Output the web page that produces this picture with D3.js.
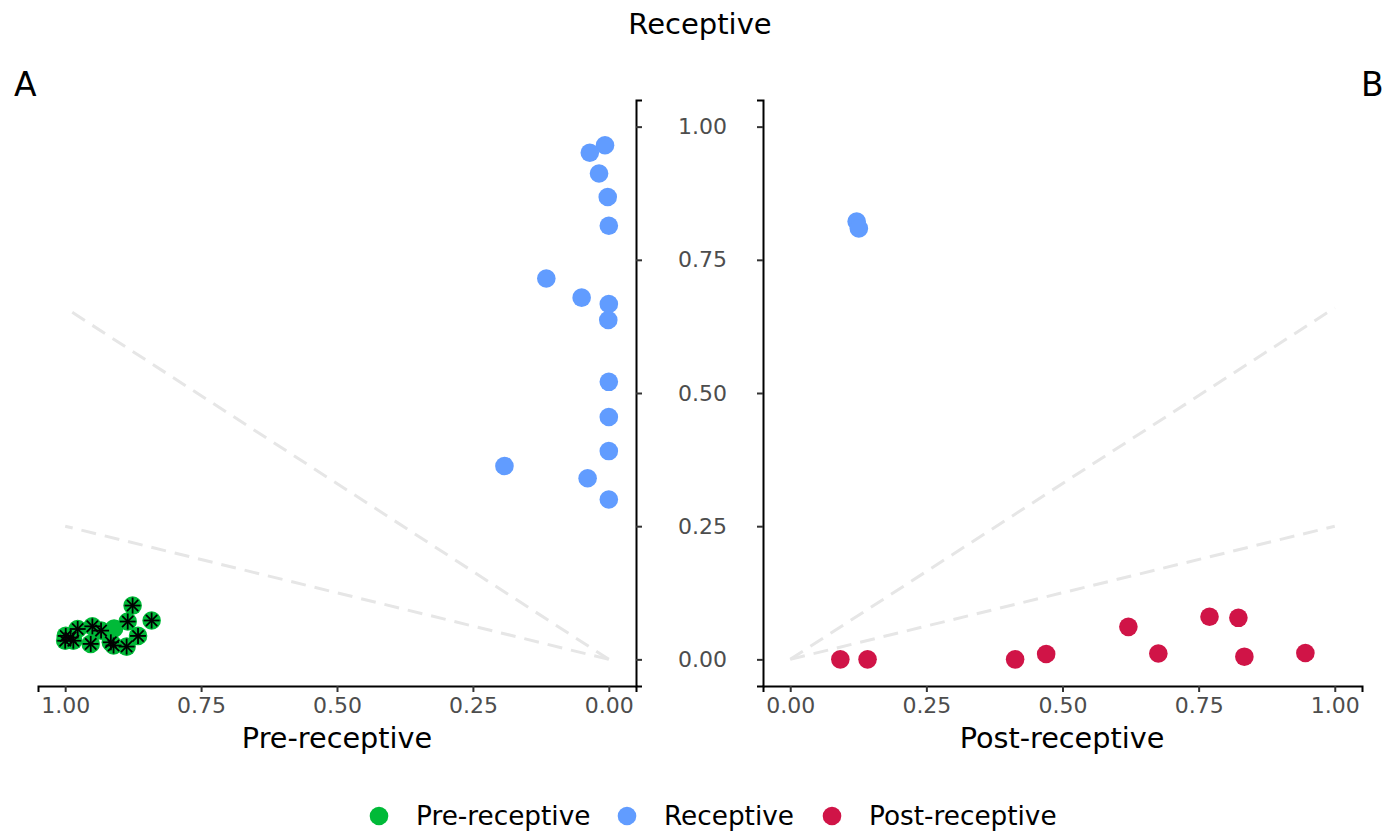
<!DOCTYPE html>
<html><head><meta charset="utf-8">
<script src="https://cdn.jsdelivr.net/npm/d3@7"></script>
<style>body{margin:0;background:#fff;} text{font-family:"DejaVu Sans",sans-serif;}</style>
</head><body><svg id="c" width="1388" height="833"></svg>
<script>
// Panel A: x = Pre-receptive, y = Receptive
const greenPre = [1.00, 0.999, 0.990, 0.985, 0.977, 0.950, 0.934, 0.953, 0.916, 0.911, 0.887, 0.885, 0.876, 0.866, 0.841];
const greenRec = [0.035, 0.044, 0.041, 0.035, 0.057, 0.062, 0.054, 0.029, 0.032, 0.026, 0.024, 0.071, 0.101, 0.044, 0.073];
const greenPlainPre = [0.910];
const greenPlainRec = [0.058];
const blueAPre = [0.007, 0.035, 0.018, 0.002, 0.000, 0.115, 0.050, 0.000, 0.001, 0.000, 0.000, 0.000, 0.192, 0.039, 0.000];
const blueARec = [0.965, 0.951, 0.912, 0.868, 0.814, 0.715, 0.679, 0.667, 0.637, 0.521, 0.455, 0.391, 0.363, 0.340, 0.300];
// Panel B: x = Post-receptive, y = Receptive
const blueBPost = [0.122, 0.126];
const blueBRec = [0.822, 0.809];
const redPost = [0.092, 0.142, 0.413, 0.470, 0.621, 0.676, 0.770, 0.823, 0.834, 0.946];
const redRec = [0.000, 0.000, 0.000, 0.010, 0.061, 0.011, 0.080, 0.078, 0.005, 0.012];
const slopes = [0.66, 0.25];
const ticks = [0, 0.25, 0.5, 0.75, 1];
const legendLabels = ["Pre-receptive", "Receptive", "Post-receptive"];
const colors = {"Pre-receptive": "#00BA38", "Receptive": "#619CFF", "Post-receptive": "#D01447"};

const svg = d3.select("#c");
const R = 9.3;
const yS = d3.scaleLinear().domain([-0.05, 1.05]).range([686, 100]);
const xA = d3.scaleLinear().domain([1.05, -0.05]).range([38, 636]);
const xB = d3.scaleLinear().domain([-0.05, 1.05]).range([763, 1362]);
const fmt = d3.format(".2f");

function styleAxis(g){
  g.attr("font-size", null).attr("font-family", null);
  g.select(".domain").attr("stroke","#000").attr("stroke-width",2);
  g.selectAll(".tick line").attr("stroke","#333").attr("stroke-width",2);
  g.selectAll(".tick text").attr("fill","#4d4d4d").style("font-size","22px").style("font-family","DejaVu Sans");
}

// dashed reference lines
function refLines(xs){
  slopes.forEach(s=>{
    svg.append("line").attr("x1",xs(0)).attr("y1",yS(0)).attr("x2",xs(1)).attr("y2",yS(s))
      .attr("stroke","#e6e6e6").attr("stroke-width",3).attr("stroke-dasharray","15,9");
  });
}
refLines(xA); refLines(xB);

// Axes A
const gxA = svg.append("g").attr("transform","translate(0,686)")
  .call(d3.axisBottom(xA).tickValues(ticks).tickFormat(fmt).tickSizeOuter(0).tickSize(6).tickPadding(5));
styleAxis(gxA);
const gyA = svg.append("g").attr("transform","translate(636,0)")
  .call(d3.axisRight(yS).tickValues(ticks).tickFormat("").tickSizeOuter(0).tickSize(6));
styleAxis(gyA);
// Axes B
const gxB = svg.append("g").attr("transform","translate(0,686)")
  .call(d3.axisBottom(xB).tickValues(ticks).tickFormat(fmt).tickSizeOuter(0).tickSize(6).tickPadding(5));
styleAxis(gxB);
const gyB = svg.append("g").attr("transform","translate(763,0)")
  .call(d3.axisLeft(yS).tickValues(ticks).tickFormat(fmt).tickSizeOuter(0).tickSize(6).tickPadding(30));
styleAxis(gyB);

// points
function dots(xs, xv, yv, col){
  svg.append("g").selectAll("circle").data(xv.map((x,i)=>[x,yv[i]])).join("circle")
    .attr("cx",d=>xs(d[0])).attr("cy",d=>yS(d[1])).attr("r",R).attr("fill",col);
}
dots(xA, greenPre, greenRec, colors["Pre-receptive"]);
dots(xA, greenPlainPre, greenPlainRec, colors["Pre-receptive"]);
dots(xA, blueAPre, blueARec, colors["Receptive"]);
dots(xB, blueBPost, blueBRec, colors["Receptive"]);
dots(xB, redPost, redRec, colors["Post-receptive"]);

// asterisks on green points
const star = svg.append("g").attr("stroke","#000").attr("stroke-width",1.8);
greenPre.forEach((x,i)=>{
  const cx = xA(x), cy = yS(greenRec[i]), a = 8;
  for (let k=0;k<4;k++){
    const ang = k*Math.PI/4;
    star.append("line").attr("x1",cx-a*Math.cos(ang)).attr("y1",cy-a*Math.sin(ang))
      .attr("x2",cx+a*Math.cos(ang)).attr("y2",cy+a*Math.sin(ang));
  }
});

// titles
svg.append("text").attr("x",700).attr("y",34).attr("text-anchor","middle").style("font-size","29px").text("Receptive");
svg.append("text").attr("x",14).attr("y",96).style("font-size","33px").text("A");
svg.append("text").attr("x",1361).attr("y",96).style("font-size","33px").text("B");
svg.append("text").attr("x",337).attr("y",748).attr("text-anchor","middle").style("font-size","28.7px").text("Pre-receptive");
svg.append("text").attr("x",1062).attr("y",748).attr("text-anchor","middle").style("font-size","28.7px").text("Post-receptive");

// legend
const legX = [379, 627, 832];
legendLabels.forEach((l,i)=>{
  svg.append("circle").attr("cx",legX[i]).attr("cy",816).attr("r",R).attr("fill",colors[l]);
  svg.append("text").attr("x",legX[i]+37).attr("y",825).style("font-size","26.3px").text(l);
});
</script></body></html>
